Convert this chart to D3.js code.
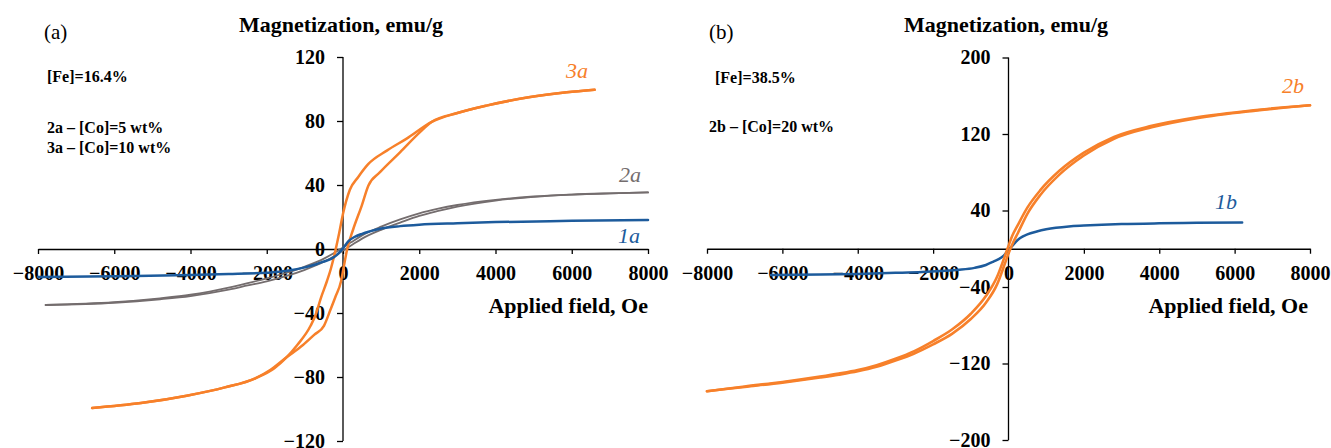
<!DOCTYPE html>
<html>
<head>
<meta charset="utf-8">
<script src="https://cdn.jsdelivr.net/npm/d3@7"></script>
<style>
  html, body { margin: 0; padding: 0; background: #fff; }
  svg { display: block; }
  text { font-family: "Liberation Serif", "Times New Roman", serif; }
</style>
</head>
<body>
<svg id="chart" width="1331" height="448"></svg>
<script>
// ---------- DATA ----------
const xTicks = [-8000, -6000, -4000, -2000, 0, 2000, 4000, 6000, 8000];
const yTicksA = [-120, -80, -40, 0, 40, 80, 120];
const yTicksB = [-200, -120, -40, 40, 120, 200];

// Panel (a) – curve 1a
const h1a = [-8000,-6000,-4000,-3000,-2000,-1500,-1000,-700,-500,-300,-150,0,150,300,500,700,1000,1500,2000,3000,4000,6000,8000];
const m1a = [-17.5,-17,-16.3,-15.7,-14.8,-13.8,-11.5,-9.5,-7.8,-6,-3.5,0.5,5,7.5,9.5,11,12.8,14.3,15.2,16.1,16.8,17.6,18.2];

// Panel (a) – curve 2a (narrow loop: upper and lower branch)
const h2a = [-7800,-6000,-4800,-4000,-3500,-3000,-2500,-2000,-1500,-1000,-500,-200,0,200,500,1000,1500,2000,2500,3000,4000,5000,6000,7000,8000];
const m2aUp = [-35,-33.2,-30.8,-28.6,-26.6,-24.2,-21.4,-18.4,-15,-11,-6,-2,1,4,8.5,14,18.5,22.3,25.2,27.5,30.7,32.8,34,34.8,35.4];
const m2aLo = [-35,-33.6,-31.4,-29.4,-27.6,-25.4,-22.8,-20.2,-17,-13,-8,-4,-1,2,6.5,12,16.5,20.7,23.8,26.5,30.3,32.6,34,34.8,35.4];

// Panel (a) – curve 3a (hysteresis loop)
const h3aDesc = [-6580,-5300,-4100,-3100,-2300,-1800,-1200,-850,-700,-585,-420,-320,-190,-100,0,180,400,660,1150,1670,2330,3000,3760,4870,5870,6600];
const m3aDesc = [-99.4,-96.3,-91.7,-86.5,-80.8,-74.5,-60,-48,-40,-31,-20,-12.5,0,10,22,37,45,53,61.5,69,79.5,85,89.6,94.8,97.9,99.5];
const h3aAsc = [-6580,-5300,-4100,-3100,-2300,-1900,-1500,-1050,-750,-500,-330,-200,-50,10,110,270,490,664,970,1495,2020,2330,3000,3760,4870,5870,6600];
const m3aAsc = [-99.4,-96.3,-91.7,-86.5,-80.8,-75.5,-68,-60,-53.5,-48,-38,-30,-20,-12.5,0,12.5,27,39.6,48,60.4,73,79.5,85,89.6,94.8,97.9,99.5];

// Panel (b) – curve 1b
const h1b = [-6300,-5000,-4000,-3000,-2300,-1800,-1300,-900,-600,-400,-200,-100,0,100,200,300,500,750,1000,1600,2000,3000,4000,5000,6200];
const m1b = [-27.5,-27,-26.3,-25.2,-24.3,-23.3,-22,-20,-17,-13.5,-9.5,-6,-1,3,7.5,11,15,18,20.3,23.3,24.2,25.8,26.6,27.1,27.5];

// Panel (b) – curve 2b (narrow loop: upper and lower branch)
const h2b = [-8000,-7000,-6000,-5000,-4500,-4000,-3500,-3000,-2500,-2000,-1500,-1000,-600,-300,-100,0,100,250,500,850,1350,2000,2800,3800,5000,6500,8000];
const m2bUp = [-149,-144,-139.3,-133.7,-130.5,-126.8,-121.7,-115,-107,-96.5,-84.5,-68,-49.5,-29,-8,3,13.5,25,43,61.5,81.5,100.5,117,128.5,137.5,144.8,150];
const m2bLo = [-149,-144.5,-140,-134.7,-131.7,-128.2,-123.5,-117,-109.5,-100,-89,-73.5,-56.5,-37,-16,-5,4.5,16.5,36.5,56.5,77.5,97.5,115,127,136.5,144.2,150];

// ---------- DRAWING ----------
const svg = d3.select("#chart");
const COL_ORANGE = "#F7802A", COL_BLUE = "#1D5B9C", COL_GRAY = "#746D6E";

function zip(h, m) { return h.map((v, i) => [v, m[i]]); }

function panel(cfg) {
  const x = d3.scaleLinear().domain([-8000, 8000]).range(cfg.xr);
  const y = d3.scaleLinear().domain(cfg.yd).range(cfg.yr);
  const g = svg.append("g");

  const gx = g.append("g")
    .attr("transform", `translate(0,${y(0)})`)
    .call(d3.axisBottom(x).tickValues(xTicks).tickSize(5).tickSizeOuter(0).tickFormat(d3.format("d")));
  gx.selectAll("text").attr("y", 31).attr("dy", 0);
  const gy = g.append("g")
    .attr("transform", `translate(${x(0)},0)`)
    .call(d3.axisLeft(y).tickValues(cfg.yTicks).tickSize(6).tickSizeOuter(0).tickPadding(12).tickFormat(d3.format("d")));
  [gx, gy].forEach(a => {
    a.select(".domain").attr("stroke", "#000").attr("stroke-width", 1.3);
    a.selectAll(".tick line").attr("stroke", "#000").attr("stroke-width", 1.3);
    a.selectAll("text").attr("fill", "#000").style("font-family", "Liberation Serif")
      .style("font-weight", "bold").style("font-size", "20px");
  });
  gy.select(".domain").attr("d", `M0,${cfg.yr[0]}V${cfg.yr[1]}`);

  const line = d3.line().x(d => x(d[0])).y(d => y(d[1])).curve(d3.curveMonotoneX);
  cfg.series.forEach(s => {
    g.append("path").datum(zip(s.h, s.m))
      .attr("d", line).attr("fill", "none")
      .attr("stroke", s.color).attr("stroke-width", s.w)
      .attr("stroke-linejoin", "round").attr("stroke-linecap", "round");
  });

  cfg.texts.forEach(t => {
    g.append("text").attr("x", t.x).attr("y", t.y)
      .attr("text-anchor", t.anchor || "start")
      .attr("fill", t.color || "#000")
      .style("font-size", t.size + "px")
      .style("font-weight", t.bold ? "bold" : "normal")
      .style("font-style", t.italic ? "italic" : "normal")
      .text(t.s);
  });
}

panel({
  xr: [38, 648], yd: [-120, 120], yr: [441, 57], yTicks: yTicksA,
  series: [
    { h: h2a, m: m2aUp, color: COL_GRAY, w: 1.8 },
    { h: h2a, m: m2aLo, color: COL_GRAY, w: 1.8 },
    { h: h3aDesc, m: m3aDesc, color: COL_ORANGE, w: 2.5 },
    { h: h3aAsc, m: m3aAsc, color: COL_ORANGE, w: 2.5 },
    { h: h1a, m: m1a, color: COL_BLUE, w: 2.5 }
  ],
  texts: [
    { s: "(a)", x: 44, y: 39, size: 21 },
    { s: "Magnetization, emu/g", x: 341, y: 32, size: 22, bold: true, anchor: "middle" },
    { s: "[Fe]=16.4%", x: 47, y: 82, size: 16, bold: true },
    { s: "2a \u2013 [Co]=5 wt%", x: 47, y: 133, size: 16, bold: true },
    { s: "3a \u2013 [Co]=10 wt%", x: 47, y: 153, size: 16, bold: true },
    { s: "Applied field, Oe", x: 648, y: 313, size: 22, bold: true, anchor: "end" },
    { s: "3a", x: 566, y: 78, size: 22, italic: true, color: COL_ORANGE },
    { s: "2a", x: 619, y: 182, size: 22, italic: true, color: COL_GRAY },
    { s: "1a", x: 618, y: 243, size: 22, italic: true, color: COL_BLUE }
  ]
});

panel({
  xr: [707, 1310], yd: [-200, 200], yr: [440, 57.5], yTicks: yTicksB,
  series: [
    { h: h1b, m: m1b, color: COL_BLUE, w: 2.5 },
    { h: h2b, m: m2bUp, color: COL_ORANGE, w: 2.6 },
    { h: h2b, m: m2bLo, color: COL_ORANGE, w: 2.6 }
  ],
  texts: [
    { s: "(b)", x: 709, y: 39, size: 21 },
    { s: "Magnetization, emu/g", x: 1006, y: 32, size: 22, bold: true, anchor: "middle" },
    { s: "[Fe]=38.5%", x: 715, y: 83, size: 16, bold: true },
    { s: "2b \u2013 [Co]=20 wt%", x: 709, y: 132, size: 16, bold: true },
    { s: "Applied field, Oe", x: 1308, y: 313, size: 22, bold: true, anchor: "end" },
    { s: "2b", x: 1282, y: 93, size: 22, italic: true, color: COL_ORANGE },
    { s: "1b", x: 1215, y: 209, size: 22, italic: true, color: COL_BLUE }
  ]
});
</script>
</body>
</html>
